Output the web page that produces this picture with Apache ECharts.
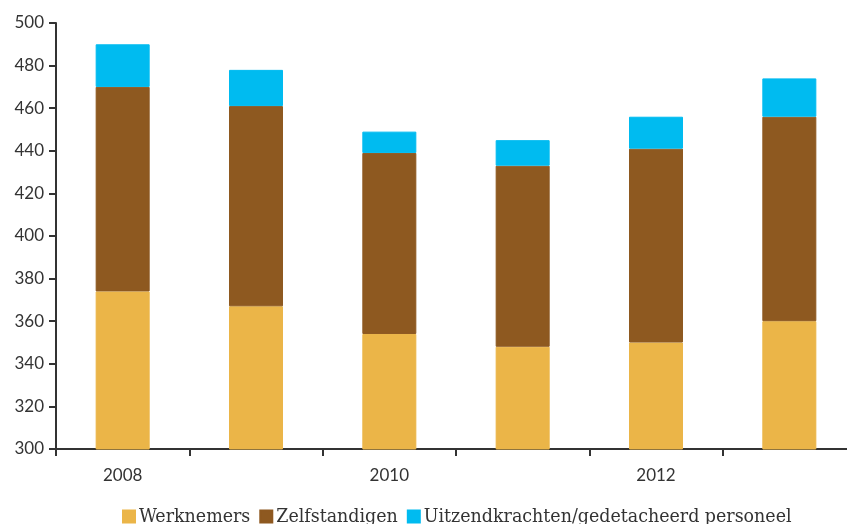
<!DOCTYPE html>
<html>
<head>
<meta charset="utf-8">
<script src="https://cdn.jsdelivr.net/npm/echarts@6/dist/echarts.min.js"></script>
<style>
  html, body { margin: 0; padding: 0; background: #fff; }
  #chart { width: 847px; height: 524px; }
</style>
</head>
<body>
<div id="chart"></div>
<script>
// Werkzame personen per jaar (x 1000), gestapeld naar type
const years = ['2008', '2009', '2010', '2011', '2012', '2013'];
const werknemers = [374, 367, 354, 348, 350, 360];
const zelfstandigen = [96, 94, 85, 85, 91, 96];
const uitzendkrachten = [20, 17, 10, 12, 15, 18];

const seriesNames = ['Werknemers', 'Zelfstandigen', 'Uitzendkrachten/gedetacheerd personeel'];
const colors = ['#EBB548', '#8E5920', '#00BBF0'];

const axisColor = '#333333';
const labelFont = 'Lato, "Open Sans", sans-serif';

const chart = echarts.init(document.getElementById('chart'), null, { renderer: 'canvas' });

// one stacked segment per series; a same-coloured outline hides antialiasing seams
function bar(name, data, color) {
  return {
    name: name,
    type: 'bar',
    stack: 'totaal',
    data: data,
    barWidth: '40.5%',
    itemStyle: { color: color, borderColor: color, borderWidth: 1 },
    emphasis: { disabled: true }
  };
}

chart.setOption({
  animation: false,
  color: colors,
  grid: { left: 56, top: 23, width: 800, bottom: 75, containLabel: false, outerBoundsMode: 'none' },
  legend: {
    top: 502,
    left: 117,
    itemWidth: 12,
    itemHeight: 12,
    itemGap: 9,
    icon: 'rect',
    textStyle: {
      fontFamily: '"DejaVu Serif Condensed", "DejaVu Serif", serif',
      fontSize: 19.4,
      color: '#333',
      padding: [0, 0, 0, -1]
    },
    data: seriesNames
  },
  xAxis: {
    type: 'category',
    data: years,
    axisLine: { lineStyle: { color: axisColor, width: 2 } },
    axisTick: { show: true, interval: 0, length: 7, lineStyle: { color: axisColor, width: 2 } },
    axisLabel: {
      interval: 1,
      margin: 18,
      color: '#333',
      fontFamily: labelFont,
      fontSize: 17
    }
  },
  yAxis: {
    type: 'value',
    min: 300,
    max: 500,
    interval: 20,
    axisLine: { show: true, lineStyle: { color: axisColor, width: 2 } },
    axisTick: { show: true, length: 7, lineStyle: { color: axisColor, width: 2 } },
    splitLine: { show: false },
    axisLabel: {
      margin: 12,
      color: '#333',
      fontFamily: labelFont,
      fontSize: 17
    }
  },
  series: [
    bar(seriesNames[0], werknemers, colors[0]),
    bar(seriesNames[1], zelfstandigen, colors[1]),
    bar(seriesNames[2], uitzendkrachten, colors[2])
  ]
});
</script>
</body>
</html>
